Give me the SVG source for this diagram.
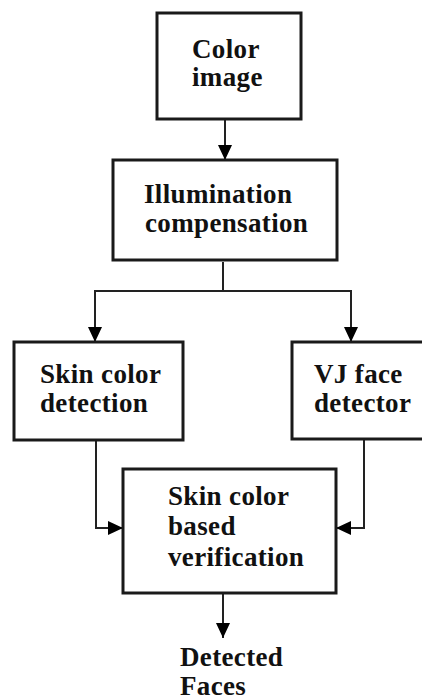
<svg xmlns="http://www.w3.org/2000/svg" width="422" height="700" viewBox="0 0 422 700">
  <style>
    .box { fill: #ffffff; stroke: #1a1a1a; stroke-width: 3; }
    .lbl { font-family: "Liberation Serif", "Times New Roman", serif; font-weight: bold; font-size: 27px; letter-spacing: 0.35px; fill: #111111; }
    .wire { fill: none; stroke: #222222; stroke-width: 2; }
  </style>
  <defs>
    <marker id="head" markerUnits="userSpaceOnUse" markerWidth="16" markerHeight="16" viewBox="0 0 16 16" refX="15" refY="8" orient="auto">
      <path d="M0,1 L15,8 L0,15 Z" fill="#000000"/>
    </marker>
  </defs>
  <rect width="422" height="700" fill="#ffffff"/>

  <g id="connectors">
    <line class="wire" x1="225" y1="119" x2="225" y2="160" marker-end="url(#head)"/>
    <polyline class="wire" points="223,262 223,291"/>
    <polyline class="wire" points="223,291 95,291 95,342" marker-end="url(#head)"/>
    <polyline class="wire" points="223,291 351,291 351,342" marker-end="url(#head)"/>
    <polyline class="wire" points="96,440 96,528 123,528" marker-end="url(#head)"/>
    <polyline class="wire" points="364,440 364,528 336,528" marker-end="url(#head)"/>
    <line class="wire" x1="223" y1="593" x2="223" y2="638" marker-end="url(#head)"/>
  </g>

  <g id="color-image">
    <rect class="box" x="157" y="13" width="144" height="106"/>
    <text class="lbl" x="192" y="58">Color</text>
    <text class="lbl" x="192" y="86">image</text>
  </g>

  <g id="illumination">
    <rect class="box" x="113" y="160" width="224" height="100"/>
    <text class="lbl" x="144" y="203">Illumination</text>
    <text class="lbl" x="145" y="232">compensation</text>
  </g>

  <g id="skin-detection">
    <rect class="box" x="14" y="342" width="169" height="98"/>
    <text class="lbl" x="40" y="383">Skin color</text>
    <text class="lbl" x="40" y="412">detection</text>
  </g>

  <g id="vj-detector">
    <rect class="box" x="292" y="342" width="134" height="97"/>
    <text class="lbl" x="314" y="383">VJ face</text>
    <text class="lbl" x="314" y="412">detector</text>
  </g>

  <g id="verification">
    <rect class="box" x="123" y="469" width="213" height="124"/>
    <text class="lbl" x="168" y="505">Skin color</text>
    <text class="lbl" x="168" y="535">based</text>
    <text class="lbl" x="168" y="566">verification</text>
  </g>

  <g id="detected-faces">
    <text class="lbl" x="180" y="666">Detected</text>
    <text class="lbl" x="180" y="695">Faces</text>
  </g>
</svg>
